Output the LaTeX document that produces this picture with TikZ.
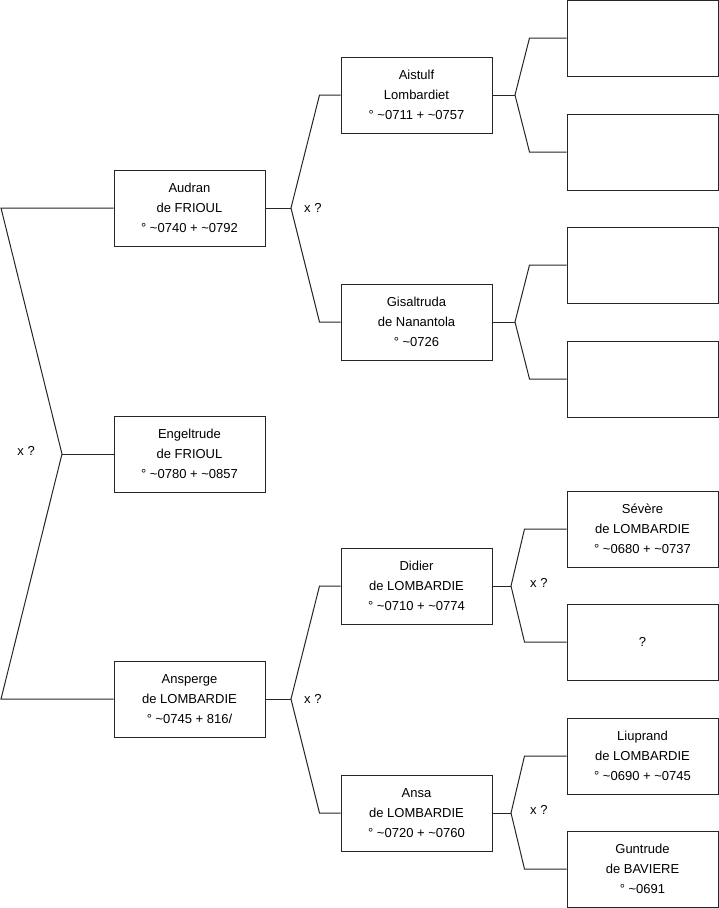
\documentclass[tikz,border=0pt]{standalone}
\usepackage{fontspec}
\setmainfont{Liberation Sans}
\usetikzlibrary{positioning}

\begin{document}
\begin{tikzpicture}[
    x=1pt, y=-1pt,
    box/.style={rectangle, draw=black!85, fill=white, minimum width=151pt, minimum height=76pt, align=center, font=\fontsize{13}{20}\selectfont, line width=1pt, inner sep=0pt},
    link/.style={draw=black!85, line width=1pt},
    union/.style={font=\fontsize{13}{15}\selectfont, inner sep=2pt}
]
\useasboundingbox (0,0) rectangle (719,908);

% generation 1
\node[box] (audran) at (189.5,208) {Audran\\de FRIOUL\\° \textasciitilde 0740 + \textasciitilde 0792};
\node[box] (engeltrude) at (189.5,454) {Engeltrude\\de FRIOUL\\° \textasciitilde 0780 + \textasciitilde 0857};
\node[box] (ansperge) at (189.5,699) {Ansperge\\de LOMBARDIE\\° \textasciitilde 0745 + 816/};

% generation 2
\node[box] (aistulf) at (416.5,95) {Aistulf\\Lombardiet\\° \textasciitilde 0711 + \textasciitilde 0757};
\node[box] (gisaltruda) at (416.5,322) {Gisaltruda\\de Nanantola\\° \textasciitilde 0726};
\node[box] (didier) at (416.5,586) {Didier\\de LOMBARDIE\\° \textasciitilde 0710 + \textasciitilde 0774};
\node[box] (ansa) at (416.5,813) {Ansa\\de LOMBARDIE\\° \textasciitilde 0720 + \textasciitilde 0760};

% generation 3
\node[box] (e1) at (642.5,38) {};
\node[box] (e2) at (642.5,152) {};
\node[box] (e3) at (642.5,265) {};
\node[box] (e4) at (642.5,379) {};
\node[box] (severe) at (642.5,529) {Sévère\\de LOMBARDIE\\° \textasciitilde 0680 + \textasciitilde 0737};
\node[box] (inconnu) at (642.5,642) {?};
\node[box] (liuprand) at (642.5,756) {Liuprand\\de LOMBARDIE\\° \textasciitilde 0690 + \textasciitilde 0745};
\node[box] (guntrude) at (642.5,869) {Guntrude\\de BAVIERE\\° \textasciitilde 0691};

% fork points
\coordinate (r1) at (1,208);
\coordinate (r2) at (1,699);
\coordinate (f0) at (62,454);
\coordinate (f1) at (291,208);
\coordinate (f2) at (291,699);
\coordinate (f3) at (515,95);
\coordinate (f4) at (515,322);
\coordinate (f5) at (511,586);
\coordinate (f6) at (511,813);

% links
\draw[link] (audran.west) -- (r1) -- (f0) -- (r2) -- (ansperge.west);
\draw[link] (f0) -- (engeltrude.west);

\draw[link] (audran.east) -- (f1);
\draw[link] (aistulf.west) -- ++(-21,0) -- (f1) -- ([xshift=-21pt]gisaltruda.west) -- (gisaltruda.west);
\draw[link] (ansperge.east) -- (f2);
\draw[link] (didier.west) -- ++(-21,0) -- (f2) -- ([xshift=-21pt]ansa.west) -- (ansa.west);

\draw[link] (aistulf.east) -- (f3);
\draw[link] (e1.west) -- ++(-37,0) -- (f3) -- ([xshift=-37pt]e2.west) -- (e2.west);
\draw[link] (gisaltruda.east) -- (f4);
\draw[link] (e3.west) -- ++(-37,0) -- (f4) -- ([xshift=-37pt]e4.west) -- (e4.west);
\draw[link] (didier.east) -- (f5);
\draw[link] (severe.west) -- ++(-42,0) -- (f5) -- ([xshift=-42pt]inconnu.west) -- (inconnu.west);
\draw[link] (ansa.east) -- (f6);
\draw[link] (liuprand.west) -- ++(-42,0) -- (f6) -- ([xshift=-42pt]guntrude.west) -- (guntrude.west);

% unions
\node[union, left=25pt of f0, yshift=3pt] {x ?};
\node[union, right=11pt of f1] {x ?};
\node[union, right=11pt of f2] {x ?};
\node[union, right=17pt of f5, yshift=3pt] {x ?};
\node[union, right=17pt of f6, yshift=3pt] {x ?};

\end{tikzpicture}
\end{document}
